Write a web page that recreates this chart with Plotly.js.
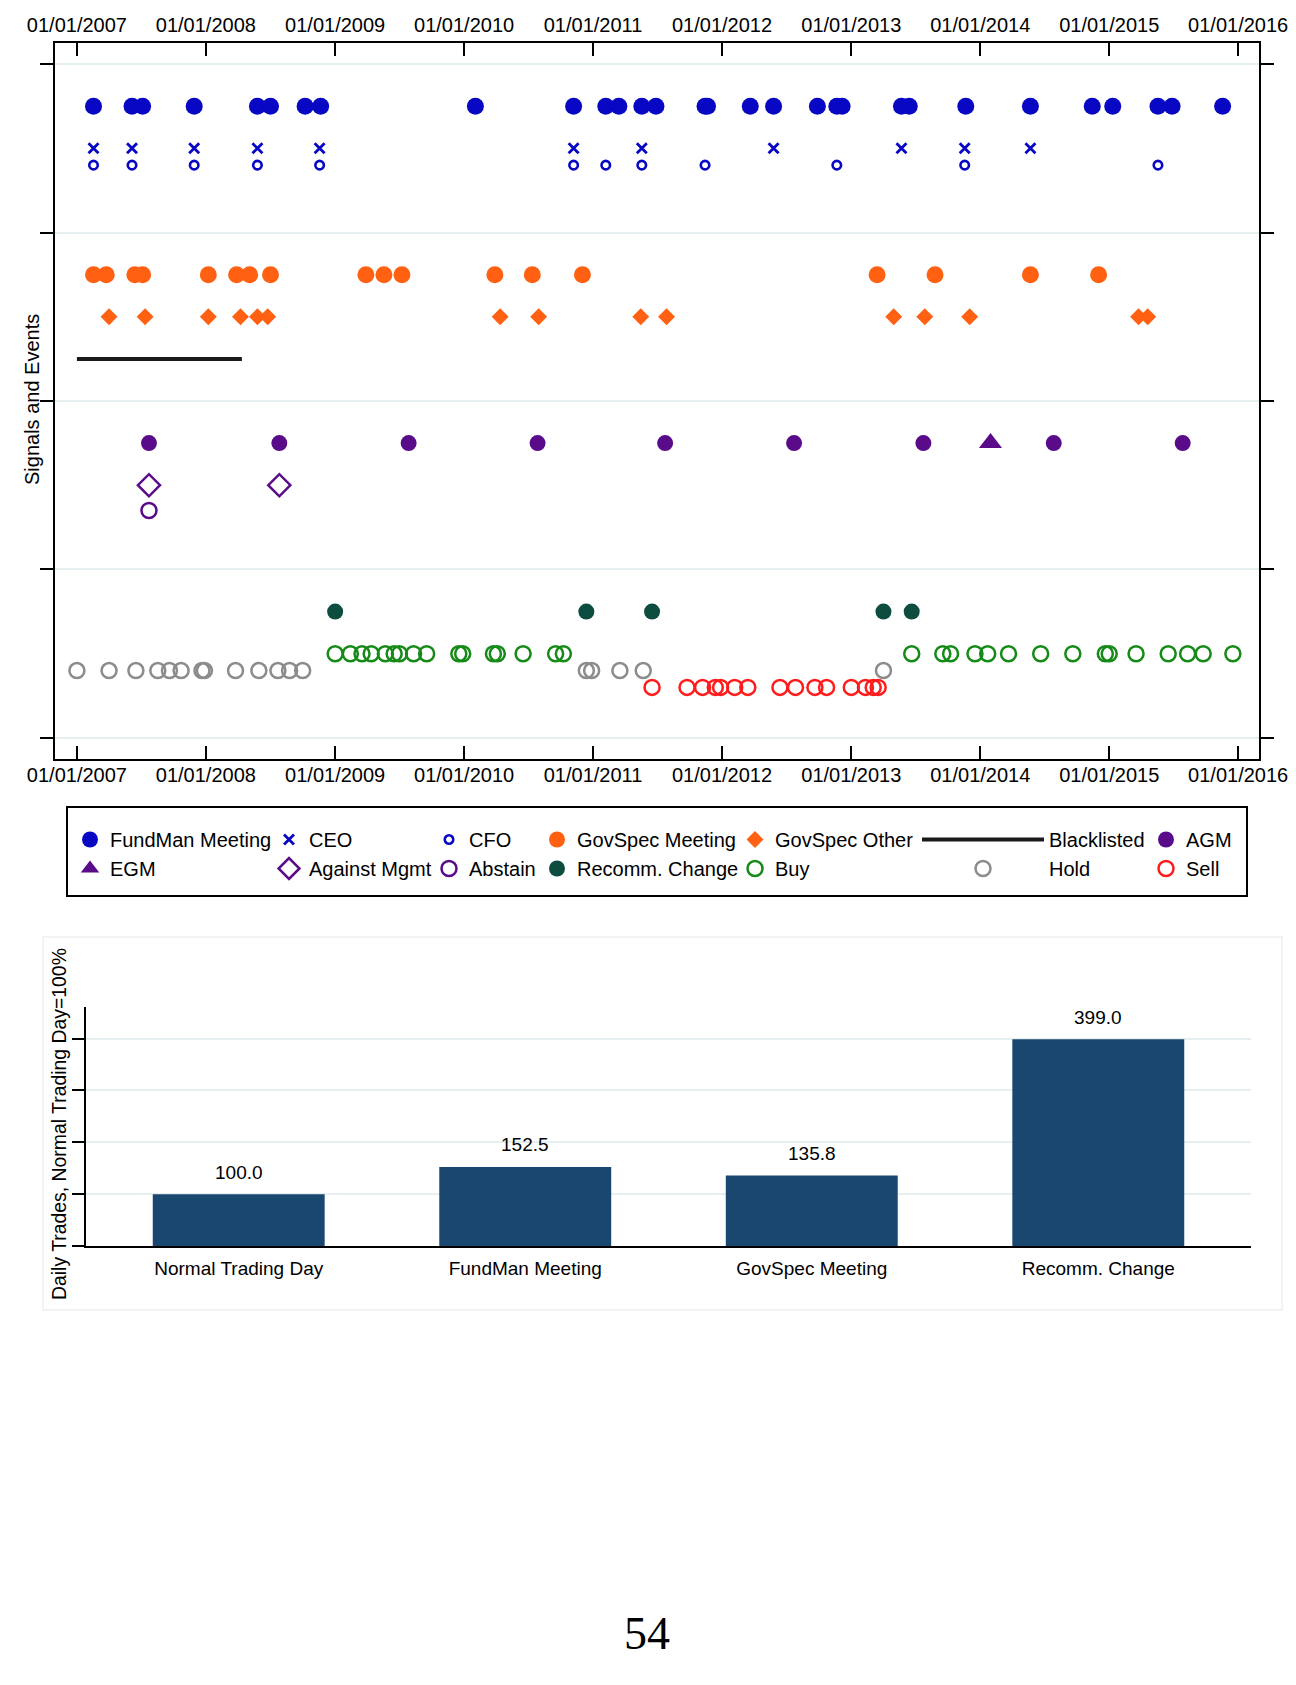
<!DOCTYPE html>
<html>
<head>
<meta charset="utf-8">
<script src="https://cdn.plot.ly/plotly-3.0.1.min.js"></script>
<style>
  body { margin: 0; background: #fff; }
  #page { width: 1296px; height: 1685px; }
</style>
</head>
<body>
<div id="page"></div>
<script>
// event dates, decimal years
var fundDates = [2007.13, 2007.43, 2007.51, 2007.91, 2008.40, 2008.50, 2008.77, 2008.89, 2010.09, 2010.85,
    2011.10, 2011.20, 2011.38, 2011.49, 2011.87, 2011.89, 2012.22, 2012.40, 2012.74, 2012.89, 2012.93,
    2013.39, 2013.45, 2013.89, 2014.39, 2014.87, 2015.03, 2015.38, 2015.49, 2015.88];
var ceoDates = [2007.13, 2007.43, 2007.91, 2008.40, 2008.88, 2010.85, 2011.38, 2012.40, 2013.39, 2013.88, 2014.39];
var cfoDates = [2007.13, 2007.43, 2007.91, 2008.40, 2008.88, 2010.85, 2011.10, 2011.38, 2011.87, 2012.89, 2013.88, 2015.38];
var govMeetDates = [2007.13, 2007.23, 2007.45, 2007.51, 2008.02, 2008.24, 2008.34, 2008.50, 2009.24, 2009.38,
    2009.52, 2010.24, 2010.53, 2010.92, 2013.20, 2013.65, 2014.39, 2014.92];
var govOtherDates = [2007.25, 2007.53, 2008.02, 2008.27, 2008.40, 2008.48, 2010.28, 2010.58, 2011.37, 2011.57,
    2013.33, 2013.57, 2013.92, 2015.23, 2015.30];
var blacklistDates = [2007.00, 2008.28];
var agmDates = [2007.56, 2008.57, 2009.57, 2010.57, 2011.56, 2012.56, 2013.56, 2014.57, 2015.57];
var egmDates = [2014.08];
var againstDates = [2007.56, 2008.57];
var abstainDates = [2007.56];
var recommDates = [2009.00, 2010.95, 2011.46, 2013.25, 2013.47];
var buyDates = [2009.00, 2009.12, 2009.21, 2009.28, 2009.39, 2009.46, 2009.50, 2009.61, 2009.71, 2009.96,
    2009.99, 2010.23, 2010.26, 2010.46, 2010.71, 2010.77, 2013.47, 2013.71, 2013.77, 2013.96, 2014.06,
    2014.22, 2014.47, 2014.72, 2014.97, 2015.00, 2015.21, 2015.46, 2015.61, 2015.73, 2015.96];
var holdDates = [2007.00, 2007.25, 2007.46, 2007.63, 2007.72, 2007.81, 2007.97, 2007.99, 2008.23, 2008.41,
    2008.56, 2008.65, 2008.75, 2010.95, 2010.99, 2011.21, 2011.39, 2013.25];
var sellDates = [2011.46, 2011.73, 2011.85, 2011.95, 2011.99, 2012.10, 2012.20, 2012.45, 2012.57, 2012.72,
    2012.81, 2013.00, 2013.11, 2013.17, 2013.21];

// row heights on the signals axis
var rowLevels = {fund: 3.75, ceo: 3.5, cfo: 3.4, govMeet: 2.75, govOther: 2.5, blacklist: 2.25,
    agm: 1.75, egm: 1.75, against: 1.5, abstain: 1.35, recomm: 0.75, buy: 0.5, hold: 0.4, sell: 0.3};

var yearTicks = [2007, 2008, 2009, 2010, 2011, 2012, 2013, 2014, 2015, 2016];

// bar chart
var barCats = ['Normal Trading Day', 'FundMan Meeting', 'GovSpec Meeting', 'Recomm. Change'];
var barVals = [100.0, 152.5, 135.8, 399.0];

var W = 1296, H = 1685;
var FONT = 'Liberation Sans, Arial, Helvetica, sans-serif';
function px(x) { return x / W; }
function py(y) { return 1 - y / H; }

function toDate(v) {
    var y = Math.floor(v);
    var a = Date.UTC(y, 0, 1), b = Date.UTC(y + 1, 0, 1);
    return new Date(a + (v - y) * (b - a)).toISOString().slice(0, 10);
}

function events(name, dates, level, marker, legend) {
    return {
        type: 'scatter', mode: 'markers', name: name,
        x: dates.map(toDate), y: dates.map(function () { return level; }),
        marker: marker, legend: legend, cliponaxis: false
    };
}

var BLUE = '#0808c4', ORANGE = '#ff6011', PURPLE = '#5a0b8a', DKGREEN = '#0c4d3f',
    GREEN = '#168a16', GRAY = '#8c8c8c', RED = '#ff1c1c';

function openMk(sym, size, color, w) {
    return {symbol: sym, size: size, color: color, line: {color: color, width: w}};
}

var traces = [
    events('FundMan Meeting', fundDates, rowLevels.fund, {symbol: 'circle', size: 17, color: BLUE}, 'legend'),
    events('CEO', ceoDates, rowLevels.ceo, openMk('x-thin-open', 10, BLUE, 2.8), 'legend2'),
    events('CFO', cfoDates, rowLevels.cfo, openMk('circle-open', 8.5, BLUE, 2.6), 'legend3'),
    events('GovSpec Meeting', govMeetDates, rowLevels.govMeet, {symbol: 'circle', size: 17, color: ORANGE}, 'legend4'),
    events('GovSpec Other', govOtherDates, rowLevels.govOther, {symbol: 'diamond', size: 13, color: ORANGE}, 'legend5'),
    {
        type: 'scatter', mode: 'lines', name: 'Blacklisted',
        x: blacklistDates.map(toDate), y: blacklistDates.map(function () { return rowLevels.blacklist; }),
        line: {color: '#1a1a1a', width: 4}, legend: 'legend6'
    },
    events('AGM', agmDates, rowLevels.agm, {symbol: 'circle', size: 16, color: PURPLE}, 'legend7'),
    events('EGM', egmDates, rowLevels.egm, {symbol: 'triangle-up', size: 20, color: PURPLE}, 'legend'),
    events('Against Mgmt', againstDates, rowLevels.against, openMk('diamond-open', 17, PURPLE, 2.5), 'legend2'),
    events('Abstain', abstainDates, rowLevels.abstain, openMk('circle-open', 15, PURPLE, 2.5), 'legend3'),
    events('Recomm. Change', recommDates, rowLevels.recomm, {symbol: 'circle', size: 16, color: DKGREEN}, 'legend4'),
    events('Buy', buyDates, rowLevels.buy, openMk('circle-open', 15, GREEN, 2.5), 'legend5'),
    events('Hold', holdDates, rowLevels.hold, openMk('circle-open', 15, GRAY, 2.5), 'legend6'),
    events('Sell', sellDates, rowLevels.sell, openMk('circle-open', 15, RED, 2.5), 'legend7'),
    // carries the date labels along the top edge
    {type: 'scatter', mode: 'markers', x: [], y: [], xaxis: 'x2', yaxis: 'y', showlegend: false, hoverinfo: 'skip'},
    {
        type: 'bar', x: barCats, y: barVals, xaxis: 'x3', yaxis: 'y3', width: 0.6,
        marker: {color: '#1a476f'}, showlegend: false
    }
];

var tickDates = yearTicks.map(function (y) { return y + '-01-01'; });
var xRange = [toDate(2006.832), toDate(2016.163)];

function leg(xpx, extra) {
    var l = {
        x: px(xpx), y: py(820), xanchor: 'left', yanchor: 'top', orientation: 'v',
        bgcolor: 'rgba(0,0,0,0)', borderwidth: 0, itemsizing: 'trace', tracegroupgap: 0,
        font: {family: FONT, size: 20, color: '#000'}
    };
    for (var k in extra) l[k] = extra[k];
    return l;
}

var layout = {
    width: W, height: H,
    margin: {l: 0, r: 0, t: 0, b: 0},
    paper_bgcolor: '#fff', plot_bgcolor: '#fff',
    font: {family: FONT, color: '#000'},
    xaxis: {
        type: 'date', domain: [px(55), px(1259)], anchor: 'y', range: xRange,
        tickvals: tickDates, tickformat: '%d/%m/%Y',
        ticks: 'inside', ticklen: 13, tickwidth: 2, tickcolor: '#000',
        showline: true, linewidth: 2, linecolor: '#000', mirror: 'ticks',
        showgrid: false, zeroline: false, ticklabelstandoff: -3,
        tickfont: {family: FONT, size: 20, color: '#000'}
    },
    xaxis2: {
        type: 'date', overlaying: 'x', matches: 'x', side: 'top', anchor: 'y',
        tickvals: tickDates, tickformat: '%d/%m/%Y', ticks: '',
        showline: false, showgrid: false, zeroline: false, ticklabelstandoff: 6,
        tickfont: {family: FONT, size: 20, color: '#000'}
    },
    yaxis: {
        domain: [py(759), py(43)], anchor: 'x', range: [-0.125, 4.125],
        tickvals: [0, 1, 2, 3, 4], showticklabels: false,
        ticks: 'outside', ticklen: 13, tickwidth: 2, tickcolor: '#000',
        showline: true, linewidth: 2, linecolor: '#000', mirror: 'ticks',
        showgrid: true, gridcolor: '#e6eff0', gridwidth: 2, zeroline: false
    },
    xaxis3: {
        type: 'category', domain: [px(86), px(1251)], anchor: 'y3', range: [-0.533, 3.533],
        ticks: '', showline: true, linewidth: 2, linecolor: '#000', showgrid: false,
        ticklabelstandoff: 4,
        tickfont: {family: FONT, size: 19, color: '#000'}
    },
    yaxis3: {
        domain: [py(1246), py(1007)], anchor: 'x3', range: [0, 461],
        tickvals: [0, 100, 200, 300, 400], showticklabels: false,
        ticks: 'outside', ticklen: 12, tickwidth: 2, tickcolor: '#000',
        showline: true, linewidth: 2, linecolor: '#000',
        showgrid: true, gridcolor: '#e6eff0', gridwidth: 2, zeroline: false
    },
    showlegend: true,
    legend: leg(70),
    legend2: leg(269),
    legend3: leg(429),
    legend4: leg(537),
    legend5: leg(735),
    legend6: leg(917, {itemwidth: 122}),
    legend7: leg(1146),
    shapes: [
        {type: 'rect', xref: 'paper', yref: 'paper', x0: px(67), x1: px(1247), y0: py(896), y1: py(807),
            line: {color: '#000', width: 2}},
        {type: 'rect', xref: 'paper', yref: 'paper', x0: px(43), x1: px(1282), y0: py(1310), y1: py(937),
            line: {color: '#f0f0f0', width: 1.5}, layer: 'below'}
    ],
    annotations: barCats.map(function (c, i) {
        return {
            xref: 'x3', yref: 'y3', x: c, y: barVals[i], text: barVals[i].toFixed(1),
            showarrow: false, yanchor: 'middle', yshift: 22,
            font: {family: FONT, size: 19, color: '#000'}
        };
    }).concat([
        {
            xref: 'paper', yref: 'paper', x: px(32), y: py(400), text: 'Signals and Events',
            textangle: -90, showarrow: false, xanchor: 'center', yanchor: 'middle',
            font: {family: FONT, size: 20, color: '#000'}
        },
        {
            xref: 'paper', yref: 'paper', x: px(59), y: py(1124), text: 'Daily Trades, Normal Trading Day=100%',
            textangle: -90, showarrow: false, xanchor: 'center', yanchor: 'middle',
            font: {family: FONT, size: 19.4, color: '#000'}
        },
        {
            xref: 'paper', yref: 'paper', x: px(647), y: py(1633), text: '54', showarrow: false,
            xanchor: 'center', yanchor: 'middle',
            font: {family: 'Liberation Serif, Times New Roman, serif', size: 46, color: '#000'}
        }
    ])
};

Plotly.newPlot('page', traces, layout, {staticPlot: true});
</script>
</body>
</html>
